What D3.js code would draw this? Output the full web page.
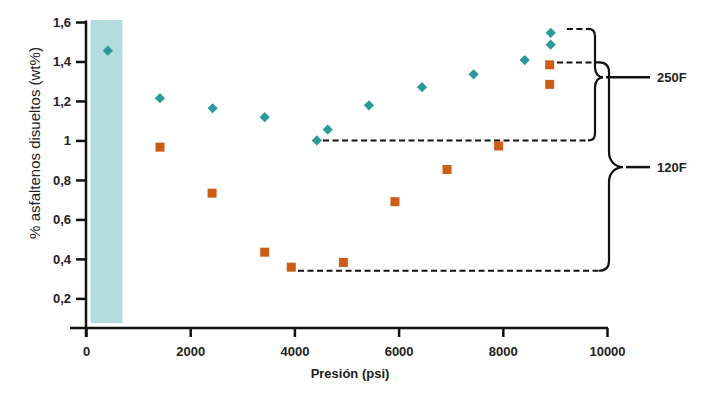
<!DOCTYPE html>
<html>
<head>
<meta charset="utf-8">
<script src="https://cdn.jsdelivr.net/npm/d3@7/dist/d3.min.js"></script>
<style>
  html, body { margin: 0; padding: 0; background: #fff; }
  svg { display: block; font-family: "Liberation Sans", Arial, sans-serif; }
</style>
</head>
<body>
<svg id="chart" width="715" height="395"></svg>
<script>
// ---------- data ----------
const teal250Pressure = [420, 1420, 2430, 3430, 4430, 4640, 5430, 6450, 7440, 8420, 8920, 8920];
const teal250Values   = [1.455, 1.214, 1.163, 1.118, 1.0, 1.055, 1.178, 1.27, 1.335, 1.407, 1.485, 1.545];

const orange120Pressure = [1420, 2420, 3430, 3940, 4940, 5930, 6930, 7920, 8900, 8900];
const orange120Values   = [0.966, 0.733, 0.434, 0.358, 0.382, 0.69, 0.853, 0.972, 1.383, 1.284];

const xTicks = [0, 2000, 4000, 6000, 8000, 10000];
const yTicks = [0.2, 0.4, 0.6, 0.8, 1.0, 1.2, 1.4, 1.6];

const bandPressure = [90, 700];
const bandValues = [0.075, 1.61];

// dashed reference levels and their start pressures
const dashLevels = [1.565, 1.395, 1.0, 0.34];
const dashStart  = [9230, 9040, 4550, 4070];

// brackets: label, top value, bottom value, tip value
const bracketLabels = ["250F", "120F"];
const bracketTop    = [1.565, 1.395];
const bracketBottom = [1.0, 0.34];
const bracketTip    = [1.32, 0.865];

const xLabel = "Presión (psi)";
const yLabel = "% asfaltenos disueltos (wt%)";

// ---------- layout ----------
const svg = d3.select("#chart");
const x = d3.scaleLinear().domain([0, 10000]).range([86, 607]);
const y = d3.scaleLinear().domain([0.05, 1.6]).range([328, 22]);

const teal = "#2a9a98", orange = "#cc5c16", ink = "#111";

// band
svg.append("rect")
  .attr("x", x(bandPressure[0])).attr("width", x(bandPressure[1]) - x(bandPressure[0]))
  .attr("y", y(bandValues[1])).attr("height", y(bandValues[0]) - y(bandValues[1]))
  .attr("fill", "#b3dcdf");

// axes
const fmt = d => d === 1 ? "1" : d.toFixed(1).replace(".", ",");
const gy = svg.append("g").attr("transform", `translate(${x(0)},0)`)
  .call(d3.axisLeft(y).tickValues(yTicks).tickFormat(fmt).tickSize(10).tickPadding(5));
const gx = svg.append("g").attr("transform", `translate(0,${y(0.05)})`)
  .call(d3.axisBottom(x).tickValues(xTicks).tickFormat(d3.format("d")).tickSize(9).tickPadding(10));
[gx, gy].forEach(g => {
  g.select(".domain").remove();
  g.selectAll(".tick line").attr("stroke", ink).attr("stroke-width", 2.5);
  g.selectAll(".tick text").attr("fill", "#222").attr("font-size", 13).attr("font-weight", "bold")
    .attr("font-family", "'Liberation Sans', Arial, sans-serif");
});
svg.append("line").attr("x1", 70).attr("x2", x(10000) + 1).attr("y1", y(0.05)).attr("y2", y(0.05))
  .attr("stroke", ink).attr("stroke-width", 2.5);
svg.append("line").attr("x1", x(0)).attr("x2", x(0)).attr("y1", y(1.6) - 1.5).attr("y2", y(0.05) + 9)
  .attr("stroke", ink).attr("stroke-width", 2.5);

// axis titles
svg.append("text").attr("x", 350).attr("y", 378).attr("text-anchor", "middle")
  .attr("font-size", 13).attr("font-weight", "bold").attr("fill", "#222").text(xLabel);
svg.append("text").attr("transform", `translate(40,143) rotate(-90)`).attr("text-anchor", "middle")
  .attr("font-size", 15).attr("fill", "#222").text(yLabel);

// dashed lines
const braceX = [595, 609];
const braceR = [7, 10];
const dashEnd = [braceX[0] - braceR[0], braceX[0], braceX[0] - braceR[0], braceX[1] - braceR[1]];
svg.selectAll("line.dash").data(dashLevels).join("line").attr("class", "dash")
  .attr("x1", (d, i) => x(dashStart[i])).attr("x2", (d, i) => dashEnd[i])
  .attr("y1", d => y(d)).attr("y2", d => y(d))
  .attr("stroke", ink).attr("stroke-width", 2).attr("stroke-dasharray", "6,3.5");

// brackets
const depth = [8, 14], span = [10, 15];
function bracePath(i) {
  const xv = braceX[i], r = braceR[i], d = depth[i], s = span[i];
  const yt = y(bracketTop[i]), yb = y(bracketBottom[i]), ym = y(bracketTip[i]);
  const p = d3.path();
  const xs = i === 1 ? braceX[0] : xv - r;
  p.moveTo(xs, yt);
  p.lineTo(xv - r, yt);
  p.quadraticCurveTo(xv, yt, xv, yt + r);
  p.lineTo(xv, ym - s);
  p.bezierCurveTo(xv, ym - s * 0.35, xv + d * 0.5, ym, xv + d, ym);
  p.bezierCurveTo(xv + d * 0.5, ym, xv, ym + s * 0.35, xv, ym + s);
  p.lineTo(xv, yb - r);
  p.quadraticCurveTo(xv, yb, xv - r, yb);
  return p.toString();
}
bracketLabels.forEach((lab, i) => {
  svg.append("path").attr("d", bracePath(i)).attr("fill", "none")
    .attr("stroke", ink).attr("stroke-width", 2.2);
  const ym = y(bracketTip[i]);
  svg.append("line").attr("x1", braceX[i] + depth[i] + 3).attr("x2", 650)
    .attr("y1", ym).attr("y2", ym).attr("stroke", ink).attr("stroke-width", 2.5);
  svg.append("text").attr("x", 657).attr("y", ym).attr("dy", "0.35em")
    .attr("font-size", 13).attr("font-weight", "bold").attr("fill", "#222").text(lab);
});

// points
svg.selectAll("path.dia").data(teal250Values).join("path").attr("class", "dia")
  .attr("d", d3.symbol().type(d3.symbolSquare).size(52))
  .attr("transform", (d, i) => `translate(${x(teal250Pressure[i])},${y(d)}) rotate(45)`)
  .attr("fill", teal);
svg.selectAll("rect.sq").data(orange120Values).join("rect").attr("class", "sq")
  .attr("x", (d, i) => x(orange120Pressure[i]) - 4.5).attr("y", d => y(d) - 4.5)
  .attr("width", 9).attr("height", 9).attr("fill", orange);
</script>
</body>
</html>
